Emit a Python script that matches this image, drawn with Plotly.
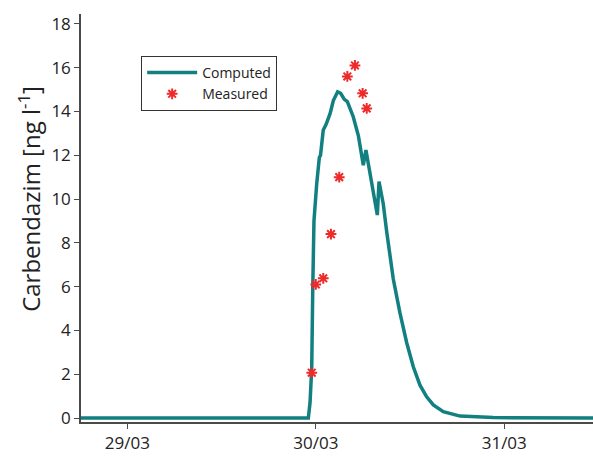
import plotly.graph_objects as go

# Computed series (time, concentration)
computed_time = [
    "2008-03-28 18:00", "2008-03-29 23:03", "2008-03-29 23:16", "2008-03-29 23:29",
    "2008-03-29 23:37", "2008-03-29 23:46", "2008-03-30 00:07", "2008-03-30 00:27",
    "2008-03-30 00:36", "2008-03-30 00:57", "2008-03-30 01:18", "2008-03-30 01:49",
    "2008-03-30 02:14", "2008-03-30 02:47", "2008-03-30 03:10", "2008-03-30 03:38",
    "2008-03-30 04:01", "2008-03-30 04:46", "2008-03-30 05:25", "2008-03-30 06:03",
    "2008-03-30 06:23", "2008-03-30 06:41", "2008-03-30 07:19", "2008-03-30 07:50",
    "2008-03-30 08:03", "2008-03-30 08:35", "2008-03-30 09:02", "2008-03-30 09:27",
    "2008-03-30 09:52", "2008-03-30 10:43", "2008-03-30 11:34", "2008-03-30 12:25",
    "2008-03-30 13:16", "2008-03-30 14:07", "2008-03-30 14:58", "2008-03-30 16:14",
    "2008-03-30 18:22", "2008-03-30 22:36", "2008-03-31 12:00",
]
computed_value = [
    0.0, 0.0, 0.7, 2.3,
    6.0, 9.0, 10.7, 11.9,
    12.0, 13.15, 13.4, 13.9,
    14.5, 14.9, 14.83, 14.55,
    14.45, 13.76, 12.9, 11.55,
    12.24, 11.63, 10.4, 9.27,
    10.8, 9.8, 8.5, 7.4,
    6.35, 4.8, 3.45, 2.34,
    1.5, 0.97, 0.6, 0.29,
    0.09, 0.02, 0.0,
]

# Measured series
measured_time = [
    "2008-03-29 23:29", "2008-03-30 00:00", "2008-03-30 00:57", "2008-03-30 01:56",
    "2008-03-30 02:59", "2008-03-30 04:01", "2008-03-30 04:59", "2008-03-30 05:58",
    "2008-03-30 06:29",
]
measured_value = [2.07, 6.1, 6.38, 8.4, 11.0, 15.6, 16.1, 14.83, 14.14]

tick_vals = ["2008-03-29", "2008-03-30", "2008-03-31"]
tick_text = ["29/03", "30/03", "31/03"]
y_ticks = [0, 2, 4, 6, 8, 10, 12, 14, 16, 18]
y_title = "Carbendazim [ng l<sup>-1</sup>]"

teal = "#127f80"
red = "#ee2a2a"
axis_col = "#4a4a4a"
font_family = "Open Sans, Noto Sans, sans-serif"

fig = go.Figure()
fig.add_trace(go.Scatter(
    x=computed_time, y=computed_value, mode="lines", name="Computed",
    line=dict(color=teal, width=3.5),
))
fig.add_trace(go.Scatter(
    x=measured_time, y=measured_value, mode="markers", name="Measured",
    marker=dict(symbol="asterisk-open", size=9, color=red,
                line=dict(color=red, width=2)),
))

fig.add_annotation(
    text=y_title, textangle=-90, showarrow=False,
    xref="paper", yref="paper", x=-0.0996, y=0.547,
    xanchor="center", yanchor="middle",
    font=dict(size=24, family=font_family, color="#222222"),
)

fig.update_layout(
    width=593, height=456,
    margin=dict(l=81, r=0, t=14, b=34),
    plot_bgcolor="white", paper_bgcolor="white",
    font=dict(family=font_family, color="#222222", size=15),
    showlegend=True,
    legend=dict(
        x=0.1175, y=0.897, xanchor="left", yanchor="top",
        bgcolor="white", bordercolor="#333333", borderwidth=1,
        font=dict(size=14, family=font_family, color="#222222"),
        itemwidth=50, tracegroupgap=0,
    ),
    xaxis=dict(
        type="date", automargin=False,
        range=["2008-03-28 18:06", "2008-03-31 11:18"],
        tickvals=tick_vals, ticktext=tick_text,
        ticks="outside", ticklen=5, tickcolor=axis_col, tickwidth=1,
        showline=True, linecolor=axis_col, linewidth=1.5,
        showgrid=False, zeroline=False,
        tickfont=dict(size=17),
    ),
    yaxis=dict(
        automargin=False,
        range=[-0.18, 18.45],
        tickvals=y_ticks,
        ticks="outside", ticklen=5, tickcolor=axis_col, tickwidth=1,
        showline=True, linecolor=axis_col, linewidth=1.5,
        showgrid=False, zeroline=False,
        tickfont=dict(size=17),
    ),
)

fig.write_html(
    "out.html",
    config={"displayModeBar": False},
    post_script="document.body.style.margin='0';document.body.style.overflow='hidden';",
)
